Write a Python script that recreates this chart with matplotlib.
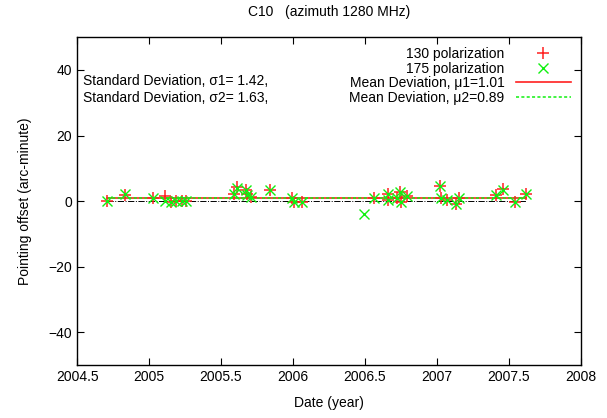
import numpy as np
import matplotlib
matplotlib.use('Agg')
import matplotlib.pyplot as plt
from matplotlib.lines import Line2D

plt.rcParams['font.family'] = ['Liberation Sans', 'DejaVu Sans']

# Observation dates (decimal year)
dates = [2004.71, 2004.83, 2005.03, 2005.11, 2005.15, 2005.19, 2005.23, 2005.26,
         2005.59, 2005.61, 2005.67, 2005.68, 2005.71, 2005.84, 2005.99, 2006.01,
         2006.06, 2006.49, 2006.56, 2006.66, 2006.66, 2006.72, 2006.74, 2006.75,
         2006.79, 2007.02, 2007.03, 2007.07, 2007.13, 2007.15, 2007.41, 2007.46,
         2007.54, 2007.62]

# Pointing offsets (arc-minute)
pol130 = [0.0, 1.8, 0.9, 1.5, -0.3, 0.0, 0.0, 0.0,
          2.2, 4.2, 3.3, 2.2, 1.3, 3.3, 0.8, -0.2,
          -0.2, np.nan, 0.9, 2.2, 0.2, 0.8, 2.7, -0.4,
          1.6, 4.7, 0.9, 0.3, -0.8, 0.8, 1.8, 3.8,
          -0.4, 2.1]
pol175 = [0.0, 2.2, 0.9, 0.0, -0.3, 0.0, 0.0, 0.0,
          2.2, 4.0, 3.3, 2.0, 1.3, 3.3, 0.8, -0.2,
          -0.2, -3.8, 0.9, 2.2, 0.2, 0.8, 2.7, -0.4,
          1.6, 4.7, 0.9, 0.3, -0.8, 0.8, 1.8, 3.5,
          -0.4, 2.1]

mu1, mu2 = 1.01, 0.89
sigma1, sigma2 = 1.42, 1.63

red = '#ff2020'
green = '#10f010'

fig = plt.figure(figsize=(6.07, 4.18), dpi=100)
ax = fig.add_axes([0.127, 0.127, 0.830, 0.784])

span = [min(dates), max(dates)]
ax.plot(span, [0, 0], color='black', lw=0.7, ls='-.')
ax.plot(span, [mu1, mu1], color=red, lw=1.2)
ax.plot(span, [mu2, mu2], color=green, lw=1.1, ls=(0, (2, 1.5)))
ax.plot(dates, pol130, ls='none', marker='+', ms=8, mew=1.1, color=red)
ax.plot(dates, pol175, ls='none', marker='x', ms=7, mew=1.0, color=green)

ax.set_xlim(2004.5, 2008)
ax.set_ylim(-50, 50)
ax.set_xticks(np.arange(2004.5, 2008.01, 0.5))
ax.set_xticklabels(['2004.5', '2005', '2005.5', '2006', '2006.5', '2007', '2007.5', '2008'])
ax.set_yticks([-40, -20, 0, 20, 40])
ax.tick_params(direction='in', top=True, right=True, length=5, width=0.8, labelsize=10)
for s in ax.spines.values():
    s.set_linewidth(1.0)

ax.set_title('C10   (azimuth 1280 MHz)', fontsize=10, pad=15)
ax.set_xlabel('Date (year)', fontsize=10, labelpad=9)
ax.set_ylabel('Pointing offset (arc-minute)', fontsize=10, labelpad=12)

handles = [
    Line2D([], [], ls='none', marker='+', ms=8, mew=1.1, color=red),
    Line2D([], [], ls='none', marker='x', ms=7, mew=1.0, color=green),
    Line2D([], [], color=red, lw=1.2),
    Line2D([], [], color=green, lw=1.1, ls=(0, (2, 1.5))),
]
labels = ['130 polarization', '175 polarization',
          'Mean Deviation, \u03bc1=%.2f' % mu1, 'Mean Deviation, \u03bc2=%.2f' % mu2]
ax.legend(handles, labels, loc='upper right', frameon=False, markerfirst=False,
          fontsize=10, handlelength=4.0, labelspacing=0.05, handletextpad=0.8,
          borderaxespad=0.3)

ax.text(0.012, 0.866, 'Standard Deviation, \u03c31= %.2f,' % sigma1, transform=ax.transAxes,
        fontsize=10, va='center')
ax.text(0.012, 0.814, 'Standard Deviation, \u03c32= %.2f,' % sigma2, transform=ax.transAxes,
        fontsize=10, va='center')

fig.savefig('out.png', dpi=100)
